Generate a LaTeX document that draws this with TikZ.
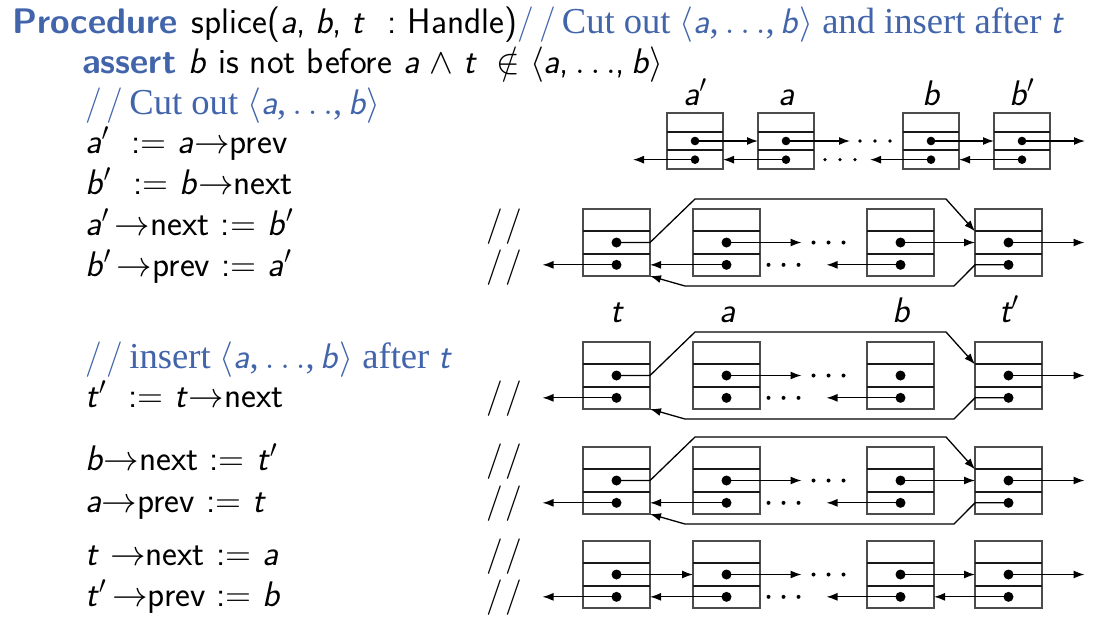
\RequirePackage{fix-cm}
\documentclass[tikz,border=0pt]{standalone}
\usepackage{fontspec}
\newfontfamily\cmtfont[Scale=1.03]{Liberation Serif}
\usetikzlibrary{arrows.meta,calc}
\definecolor{struct}{RGB}{65,100,170}
\newcommand\mvar[1]{\textsf{\itshape #1}}
\newcommand\mvarp[1]{\textsf{\itshape #1}$'$}
\newcommand\arrto{$\rightarrow$}
\newcommand\slsl{/\kern3pt/}
\newcommand\cslsl{/\kern5pt/}
\newcommand\seqab{$\langle$\mvar{a},\,$\ldots$,\,\mvar{b}$\rangle$}
\tikzset{
 boxst/.style={draw=black!70, line width=1.4pt, inner sep=0pt, outer sep=0pt},
 divst/.style={draw=black!90, line width=2.3pt},
 arr/.style={-{Latex[length=11pt,width=8pt]}, line width=1.3pt},
 txt/.style={anchor=base west, inner sep=0pt, font=\fontsize{35.5}{42}\selectfont\sffamily},
 lbl/.style={anchor=base, inner sep=0pt, font=\fontsize{35.5}{42}\selectfont\sffamily\itshape},
}
% name, x left, y top, size, dot radius
\newcommand\lbox[5]{%
 \pgfmathsetmacro\lbA{#4/3}\pgfmathsetmacro\lbB{2*#4/3}%
 \pgfmathsetmacro\lbH{#4/2}\pgfmathsetmacro\lbP{5*#4/6}%
 \node[boxst, minimum width=#4pt, minimum height=#4pt, anchor=north west] (#1) at (#2,-#3) {};
 \coordinate (#1-d1l) at ([yshift=-\lbA pt]#1.north west);
 \coordinate (#1-d1r) at ([yshift=-\lbA pt]#1.north east);
 \coordinate (#1-d2l) at ([yshift=-\lbB pt]#1.north west);
 \coordinate (#1-d2r) at ([yshift=-\lbB pt]#1.north east);
 \coordinate (#1-n) at ([yshift=-\lbH pt]#1.north);
 \coordinate (#1-p) at ([yshift=-\lbP pt]#1.north);
 \coordinate (#1-nl) at ([yshift=-\lbH pt]#1.north west);
 \coordinate (#1-nr) at ([yshift=-\lbH pt]#1.north east);
 \coordinate (#1-pl) at ([yshift=-\lbP pt]#1.north west);
 \coordinate (#1-pr) at ([yshift=-\lbP pt]#1.north east);
 \draw[divst] (#1-d1l) -- (#1-d1r);
 \draw[divst] (#1-d2l) -- (#1-d2r);
 \fill (#1-n) circle (#5pt);
 \fill (#1-p) circle (#5pt);
}
% lower row: prefix, top
\newcommand\lrow[2]{%
 \lbox{#1a}{583}{#2}{67}{5}
 \lbox{#1b}{693}{#2}{67}{5}
 \lbox{#1c}{867}{#2}{67}{5}
 \lbox{#1d}{975}{#2}{67}{5}
 \coordinate (#1L) at ([xshift=-74pt]#1a-p);
 \coordinate (#1R) at ([xshift=76pt]#1d-n);
 \coordinate (#1N) at ([xshift=75pt]#1b-n);
 \coordinate (#1P) at ([xshift=-74pt]#1c-p);
 \draw[arr] (#1a-p) -- (#1L);
 \draw[arr] (#1b-n) -- (#1N);
 \draw[arr] (#1c-p) -- (#1P);
 \draw[arr] (#1d-n) -- (#1R);
 \foreach \k in {-15,0,15} {
   \fill ([xshift=\k pt+102pt]#1b-n) circle (2pt);
   \fill ([xshift=\k pt+57pt]#1b-p) circle (2pt);
 }
}
% arcs of a lower row
\newcommand\larcs[1]{%
 \coordinate (#1u1) at ([shift={(2pt,10pt)}]#1b.north west);
 \coordinate (#1u2) at ([shift={(12pt,10pt)}]#1c.north east);
 \coordinate (#1w1) at ([shift={(-8pt,-10pt)}]#1b.south west);
 \coordinate (#1w2) at ([shift={(20pt,-10pt)}]#1c.south east);
 \draw[arr, line join=round] (#1a-n) -- (#1a-nr) -- (#1u1) -- (#1u2) -- (#1d-d1l);
 \draw[arr, line join=round] (#1d-p) -- (#1d-pl) -- (#1w2) -- (#1w1) -- (#1a.south east);
}
\begin{document}
\begin{tikzpicture}[x=1pt,y=1pt]
\useasboundingbox (0,0) rectangle (1100,-635);
% ---------- text ----------
\node[txt] (l1) at (12,-33) {{\color{struct}\bfseries Procedure}\hspace{14pt}splice(\mvar{a},\;\mvar{b},\;\mvar{t}\ \ :\ Handle){\color{struct}\cslsl\,\cmtfont Cut out \seqab{} and insert after \mvar{t}}};
\node[txt] (l2) at (82,-73) {{\color{struct}\bfseries assert}\hspace{12pt}\mvar{b} is not before \mvar{a}$\;\wedge\;$\mvar{t}$\;\;\notin\;$\seqab};
\node[txt] (l3) at (85,-114) {{\color{struct}\cslsl\,\cmtfont Cut out \seqab}};
\node[txt] (c1) at (85,-153) {\mvarp{a}\ \ := \mvar{a}\arrto prev};
\node[txt] (c2) at (85,-194) {\mvarp{b}\ \ := \mvar{b}\arrto next};
\node[txt] (c3) at (85,-235) {\mvarp{a}\,\arrto next := \mvarp{b}};
\node[txt] (c4) at (85,-276) {\mvarp{b}\,\arrto prev := \mvarp{a}};
\node[txt] (l4) at (85,-368) {{\color{struct}\cslsl\,\cmtfont insert \seqab{} after \mvar{t}}};
\node[txt] (c5) at (85,-407) {\mvarp{t}\ \ := \mvar{t}\arrto next};
\node[txt] (c6) at (85,-470) {\mvar{b}\arrto next := \mvarp{t}};
\node[txt] (c7) at (85,-512) {\mvar{a}\arrto prev := \mvar{t}};
\node[txt] (c8) at (85,-565) {\mvar{t} \arrto next := \mvar{a}};
\node[txt] (c9) at (85,-606) {\mvarp{t}\,\arrto prev := \mvar{b}};
\foreach \yy/\nm in {235/s1,276/s2,407/s3,470/s4,512/s5,565/s6,606/s7}
  \node[txt] (\nm) at (486,-\yy) {\slsl};
% ---------- top row ----------
\lbox{r0a}{667}{113}{56}{4.3}
\lbox{r0b}{758}{113}{56}{4.3}
\lbox{r0c}{903}{113}{56}{4.3}
\lbox{r0d}{994}{113}{56}{4.3}
\node[lbl] (t0a) at (695,-105) {a$'$};
\node[lbl] (t0b) at (786,-105) {a};
\node[lbl] (t0c) at (931,-105) {b};
\node[lbl] (t0d) at (1022,-105) {b$'$};
\coordinate (r0L) at ([xshift=-62pt]r0a-p);
\coordinate (r0R) at ([xshift=63pt]r0d-n);
\coordinate (r0N) at ([xshift=64pt]r0b-n);
\coordinate (r0P) at ([xshift=-61pt]r0c-p);
\draw[arr] (r0a-n) -- (r0b-nl);
\draw[arr] (r0b-n) -- (r0N);
\draw[arr] (r0c-n) -- (r0d-nl);
\draw[arr] (r0d-n) -- (r0R);
\draw[arr] (r0d-p) -- (r0c-pr);
\draw[arr] (r0c-p) -- (r0P);
\draw[arr] (r0b-p) -- (r0a-pr);
\draw[arr] (r0a-p) -- (r0L);
\foreach \k in {-15,0,15} {
  \fill ([xshift=\k pt+89pt]r0b-n) circle (1.8pt);
  \fill ([xshift=\k pt+54pt]r0b-p) circle (1.8pt);
}
% ---------- row 1 ----------
\lrow{r1}{209}
\larcs{r1}
\draw[arr] (r1b-p) -- (r1a-pr);
\draw[arr] (r1c-n) -- (r1d-nl);
% labels
\node[lbl] (t1a) at (617,-322) {t};
\node[lbl] (t1b) at (727,-322) {a};
\node[lbl] (t1c) at (901,-322) {b};
\node[lbl] (t1d) at (1009,-322) {t$'$};
% ---------- row 2 ----------
\lrow{r2}{342}
\larcs{r2}
% ---------- row 3 ----------
\lrow{r3}{447}
\larcs{r3}
\draw[arr] (r3b-p) -- (r3a-pr);
\draw[arr] (r3c-n) -- (r3d-nl);
% ---------- row 4 ----------
\lrow{r4}{541}
\draw[arr] (r4a-n) -- (r4b-nl);
\draw[arr] (r4b-p) -- (r4a-pr);
\draw[arr] (r4c-n) -- (r4d-nl);
\draw[arr] (r4d-p) -- (r4c-pr);
\end{tikzpicture}
\end{document}
